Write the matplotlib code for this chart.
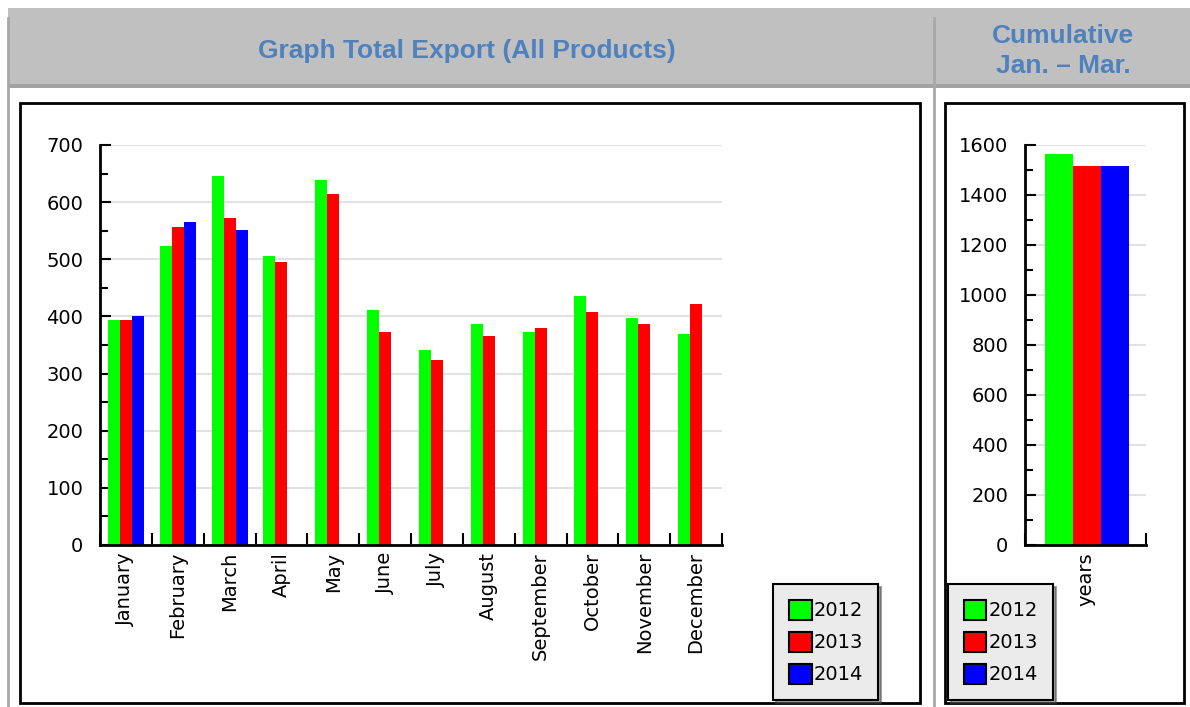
import numpy as np
import matplotlib
matplotlib.use('Agg')
import matplotlib.pyplot as plt
from matplotlib.patches import Rectangle, Patch

# data
months = ['January', 'February', 'March', 'April', 'May', 'June', 'July',
          'August', 'September', 'October', 'November', 'December']
years = ['2012', '2013', '2014']
exp_2012 = [394, 524, 646, 506, 639, 412, 341, 387, 373, 436, 397, 370]
exp_2013 = [394, 556, 573, 496, 615, 373, 324, 366, 380, 408, 387, 422]
exp_2014 = [401, 566, 552]
cum_jan_mar = [1563, 1517, 1517]
colors = ['#00ff00', '#ff0000', '#0000ff']

W, H = 1190, 707
fig = plt.figure(figsize=(W / 100, H / 100), dpi=100)
fig.patch.set_facecolor('white')


def box(x0, y0, x1, y1):
    # pixel box (top-left origin) -> figure fraction rect
    return [x0 / W, 1 - y1 / H, (x1 - x0) / W, (y1 - y0) / H]


# page decoration: header cells and chart frames
bg = fig.add_axes([0, 0, 1, 1], zorder=0)
bg.set_xlim(0, W)
bg.set_ylim(H, 0)
bg.axis('off')
bg.add_patch(Rectangle((8, 8), W - 8, 77, fc='#c0c0c0', ec='none'))
bg.add_patch(Rectangle((8, 84), W - 8, 4, fc='#a2a2a2', ec='none'))
bg.plot([8, 8], [18, H], color='#a8a8a8', lw=2)
bg.plot([934, 934], [18, H], color='#a8a8a8', lw=2)
bg.add_patch(Rectangle((20, 103), 900, 600, fc='white', ec='black', lw=2))
bg.add_patch(Rectangle((945, 103), 239, 600, fc='white', ec='black', lw=2))
head = dict(family='Liberation Sans', weight='bold', color='#4f81bd',
            ha='center', va='center')
bg.text(467, 51, 'Graph Total Export (All Products)', fontsize=19, **head)
bg.text(1063, 51, 'Cumulative\nJan. \u2013 Mar.', fontsize=19,
        linespacing=1.35, **head)

tick_font = 14


def style(ax, ymax, step):
    ax.set_ylim(0, ymax)
    ax.set_yticks(np.arange(0, ymax + 1, step))
    ax.set_yticks(np.arange(step / 2, ymax, step), minor=True)
    ax.yaxis.grid(True, which='major', color='#e2e2e2', lw=1.5)
    ax.set_axisbelow(True)
    for s in ['top', 'right']:
        ax.spines[s].set_visible(False)
    for s in ['left', 'bottom']:
        ax.spines[s].set_linewidth(2)
        ax.spines[s].set_color('black')
    ax.tick_params(axis='y', which='major', direction='in', length=8,
                   width=1.5, pad=12, labelsize=tick_font)
    ax.tick_params(axis='y', which='minor', direction='in', length=6,
                   width=1.5)
    ax.tick_params(axis='x', which='major', length=0, pad=5,
                   labelsize=tick_font)
    ax.tick_params(axis='x', which='minor', direction='in', length=9,
                   width=1.5)
    ax.set_facecolor('white')


def add_legend(x0, y1):
    handles = [Patch(fc=c, ec='black', lw=1.5) for c in colors]
    leg = fig.legend(handles, years, loc='lower left',
                     bbox_to_anchor=(x0 / W, 1 - y1 / H),
                     bbox_transform=fig.transFigure, frameon=True,
                     fancybox=False, shadow=True, facecolor='#ebebeb',
                     edgecolor='black', fontsize=tick_font, borderaxespad=0,
                     handlelength=1.18, handleheight=1.18, handletextpad=0.1,
                     labelspacing=0.6, borderpad=0.8)
    leg.get_frame().set_linewidth(1.5)


# monthly chart
ax = fig.add_axes(box(100, 145, 722, 545), zorder=1)
style(ax, 700, 100)
x = np.arange(len(months))
w = 0.2315
ax.bar(x - w, exp_2012, w, color=colors[0])
ax.bar(x, exp_2013, w, color=colors[1])
ax.bar(x[:len(exp_2014)] + w, exp_2014, w, color=colors[2])
ax.set_xlim(-0.5, len(months) - 0.5)
ax.set_xticks(x)
ax.set_xticklabels(months, rotation=90, va='top', ha='center')
ax.set_xticks(np.arange(len(months) + 1) - 0.5, minor=True)
add_legend(773, 700)

# cumulative chart
ax2 = fig.add_axes(box(1025, 145, 1146, 545), zorder=1)
style(ax2, 1600, 200)
w2 = 0.231
for i, v in enumerate(cum_jan_mar):
    ax2.bar((i - 1) * w2 + 0.01, v, w2, color=colors[i])
ax2.set_xlim(-0.5, 0.5)
ax2.set_xticks([0])
ax2.set_xticklabels(['years'], rotation=90, va='top', ha='center')
ax2.set_xticks([-0.5, 0.5], minor=True)
add_legend(948, 700)

fig.savefig('out.png', dpi=100)
